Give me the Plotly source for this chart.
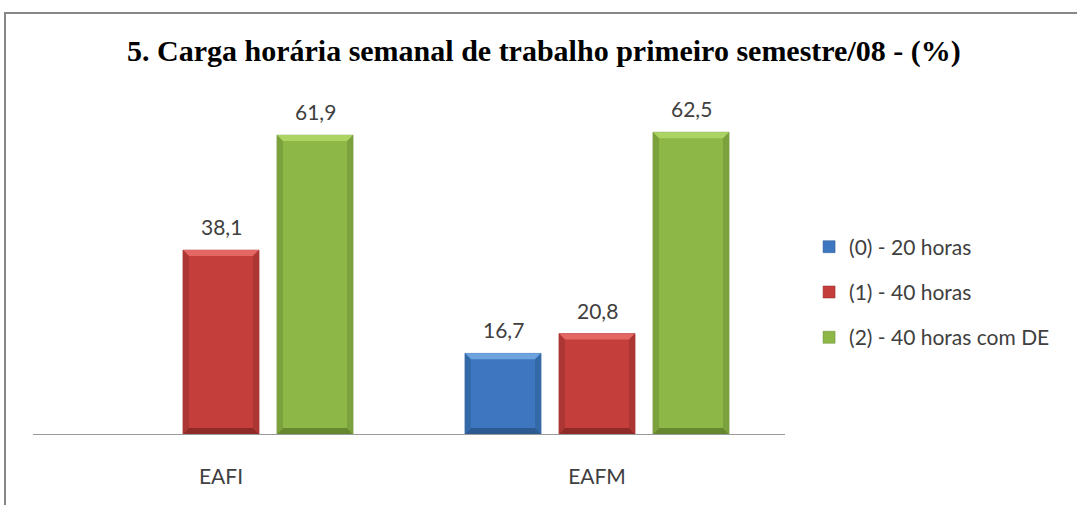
import plotly.graph_objects as go

categories = ["EAFI", "EAFM"]
series_names = ["(0) - 20 horas", "(1) - 40 horas", "(2) - 40 horas com DE"]
values_20h = [None, 16.7]
values_40h = [38.1, 20.8]
values_40h_de = [61.9, 62.5]
title_text = "5. Carga horária semanal de trabalho primeiro semestre/08 - (%)"

colors = ["#3E77BF", "#C43F3C", "#8DB847"]
top_colors = ["#6FA3E0", "#E46763", "#ABD462"]
bottom_colors = ["#2D5A91", "#8E2B29", "#66872F"]
side_colors = ["#3469A8", "#AC3634", "#7BA13C"]
all_values = [values_20h, values_40h, values_40h_de]

bargap = 0.25
bargroupgap = 0.19
y_max = 70
plot_w, plot_h = 752, 338

fig = go.Figure()
for i, (name, vals) in enumerate(zip(series_names, all_values)):
    fig.add_trace(go.Bar(
        x=categories, y=vals, name=name,
        marker=dict(color=colors[i], line=dict(color=bottom_colors[i], width=0.5)),
        legendgroup=f"g{i}",
    ))

def fmt(v):
    return f"{v:.1f}".replace(".", ",")

slot = (1 - bargap) / 3
bar_w = slot * (1 - bargroupgap)
dx = 6 / (plot_w / len(categories))
dy = 6 / (plot_h / y_max)

annotations = []
shapes = []
for i, vals in enumerate(all_values):
    for j, v in enumerate(vals):
        if v is None:
            continue
        xc = j + (i - 1) * slot
        x0, x1 = xc - bar_w / 2, xc + bar_w / 2
        annotations.append(dict(
            x=xc, y=v, xref="x", yref="y",
            text=fmt(v), showarrow=False, yanchor="bottom", yshift=9,
            font=dict(family="Lato, Open Sans, sans-serif", size=21, color="#404040"),
        ))
        polys = [
            ([(x0, v), (x1, v), (x1 - dx, v - dy), (x0 + dx, v - dy)], top_colors[i]),
            ([(x0, 0), (x1, 0), (x1 - dx, dy), (x0 + dx, dy)], bottom_colors[i]),
            ([(x0, 0), (x0, v), (x0 + dx, v - dy), (x0 + dx, dy)], side_colors[i]),
            ([(x1, 0), (x1, v), (x1 - dx, v - dy), (x1 - dx, dy)], side_colors[i]),
        ]
        for pts, col in polys:
            path = "M " + " L ".join(f"{px},{py}" for px, py in pts) + " Z"
            shapes.append(dict(type="path", xref="x", yref="y", path=path,
                               fillcolor=col, line=dict(width=0), layer="above"))

shapes.append(dict(type="rect", xref="paper", yref="paper",
                   x0=(5 - 33) / plot_w, x1=(1085 - 33) / plot_w,
                   y0=(434 - 515) / plot_h, y1=(434 - 13) / plot_h,
                   line=dict(color="#878787", width=2), layer="below"))

fig.update_layout(
    width=1077, height=505,
    margin=dict(l=33, r=292, t=96, b=71),
    paper_bgcolor="white", plot_bgcolor="white",
    barmode="group", bargap=bargap, bargroupgap=bargroupgap,
    title=dict(text=f"<b>{title_text}</b>", x=0.505, xanchor="center", y=0.9, yanchor="middle",
               font=dict(family="Liberation Serif, Times New Roman, serif", size=30, color="black")),
    xaxis=dict(showline=True, linecolor="#9A9A9A", linewidth=1, ticks="outside", ticklen=24,
               tickcolor="rgba(0,0,0,0)", showgrid=False,
               tickfont=dict(family="Lato, Open Sans, sans-serif", size=21, color="#404040")),
    yaxis=dict(range=[0, y_max], visible=False, showgrid=False),
    legend=dict(x=1.032, y=0.42, xanchor="left", yanchor="middle", tracegroupgap=15,
                font=dict(family="Lato, Open Sans, sans-serif", size=21, color="#404040"),
                itemwidth=30),
    annotations=annotations,
    shapes=shapes,
    showlegend=True,
)

fig.write_html("out.html", config={"displayModeBar": False},
               post_script="document.body.style.margin='0';")
